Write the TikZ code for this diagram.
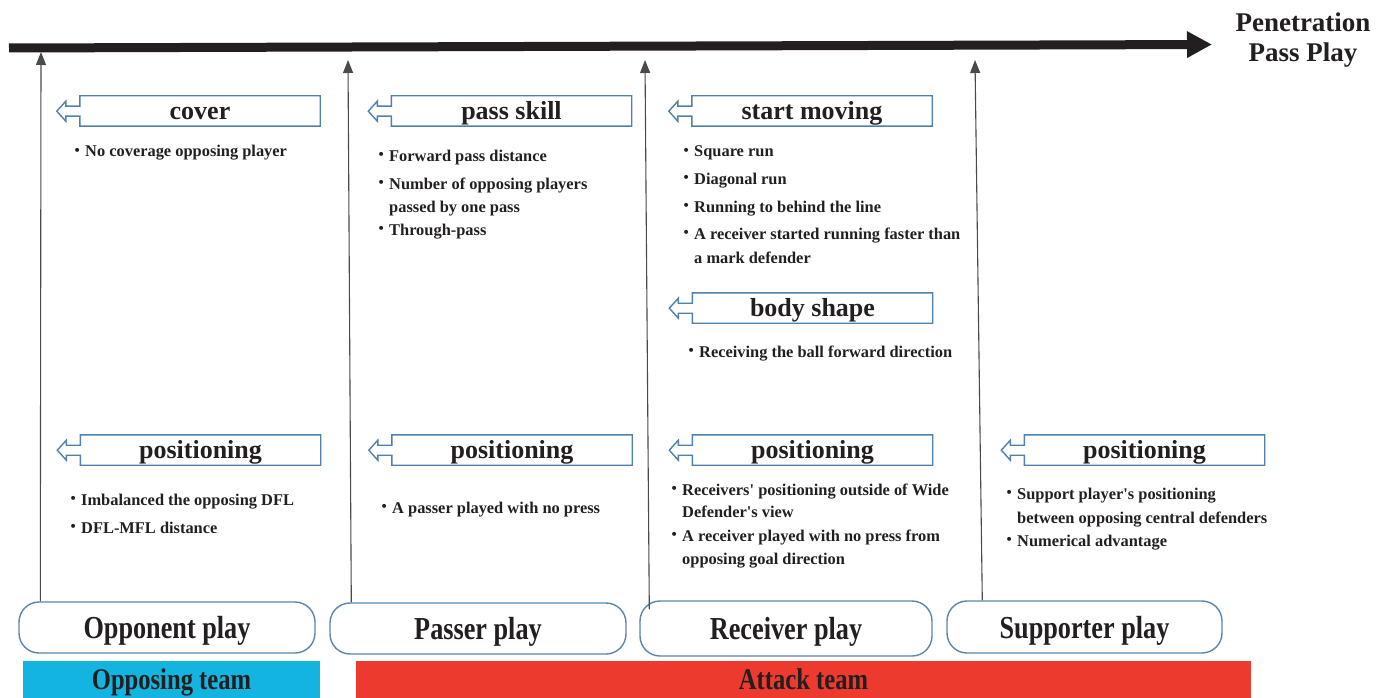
\documentclass[tikz,border=0pt]{standalone}
\usepackage{fontspec}
\usepackage{graphicx}
\setmainfont{Liberation Serif}
\usetikzlibrary{arrows.meta,calc}
\definecolor{ink}{HTML}{231F20}
\definecolor{hblue}{HTML}{4F80AE}
\definecolor{pblue}{HTML}{5A86AE}
\definecolor{teamcyan}{HTML}{14B4E0}
\definecolor{teamred}{HTML}{EC3A2E}
\definecolor{vgray}{HTML}{4A4A4A}
\tikzset{
  hd/.style={minimum width=240pt, minimum height=30pt, inner sep=0pt,
    text height=19.5pt, text depth=2.5pt,
    font=\fontsize{26}{26}\selectfont\bfseries, text=ink},
  hdline/.style={draw=hblue, line width=1.4pt, line join=miter},
  bt/.style={anchor=base west, inner sep=0pt,
    font=\fontsize{16.4}{16.4}\selectfont\bfseries, text=ink},
  playbox/.style={draw=pblue, line width=1.4pt, rounded corners=20pt, fill=white,
    inner sep=0pt, text height=22pt, text depth=0pt, text=ink,
    font=\fontsize{32}{32}\selectfont\bfseries},
  teambar/.style={inner sep=0pt, text height=20pt, text depth=0pt, text=ink,
    font=\fontsize{30}{30}\selectfont\bfseries},
  vup/.style={draw=vgray, line width=1.1pt, -{Triangle[width=10pt,length=13pt]}},
  ttl/.style={anchor=base, inner sep=0pt, text=ink,
    font=\fontsize{27}{27}\selectfont\bfseries},
}
\newcommand\headbox[4]{%
  \node[hd] (#1) at (#2,#3) {#4};
  \draw[hdline] (#1.south west) -- ++(0,-10) -- ++(-14,0) -- ++(0,5)
    -- ++(-9,-10) -- ++(9,-10) -- ++(0,5) -- ++(14,0)
    -- (#1.north west) -- (#1.north east) -- (#1.south east) -- cycle;}
\newcommand\bul{\makebox[16pt][c]{\raisebox{-1.2pt}{\scalebox{1.5}{\textperiodcentered}}}}
\newcommand\cnd[1]{\scalebox{0.82}[1]{#1}}
\begin{document}
\begin{tikzpicture}[x=1pt,y=-1pt]
\useasboundingbox (0,0) rectangle (1384,698);

% main arrow
\coordinate (ms) at (9,48);
\coordinate (me) at (1212,44.5);
\draw[ink, line width=9pt, -{Triangle[width=25pt,length=25pt]}] (ms) -- (me);
\node[ttl] (t1) at (1303,32) {Penetration};
\node[ttl] (t2) at (1303,62) {Pass Play};

% heading boxes
\headbox{hcover}{200}{111}{cover}
\headbox{hpass}{511.5}{111}{pass skill}
\headbox{hstart}{812}{111}{start moving}
\headbox{hbody}{812.5}{308}{body shape}
\headbox{hpos1}{200.5}{450}{positioning}
\headbox{hpos2}{512}{450}{positioning}
\headbox{hpos3}{812.5}{450}{positioning}
\headbox{hpos4}{1144.5}{450}{positioning}

% bullet texts
\node[bt] (c1) at (69,157) {\bul No coverage opposing player};

\node[bt] (p1) at (373,161) {\bul Forward pass distance};
\node[bt] (p2) at (373,189) {\bul Number of opposing players};
\node[bt] (p2b) at (389,212) {passed by one pass};
\node[bt] (p3) at (373,235) {\bul Through-pass};

\node[bt] (s1) at (678,157) {\bul Square run};
\node[bt] (s2) at (678,184) {\bul Diagonal run};
\node[bt] (s3) at (678,212) {\bul Running to behind the line};
\node[bt] (s4) at (678,239) {\bul A receiver started running faster than};
\node[bt] (s4b) at (694,263) {a mark defender};

\node[bt] (b1) at (683,357) {\bul Receiving the ball forward direction};

\node[bt] (q1) at (65,505) {\bul Imbalanced the opposing DFL};
\node[bt] (q2) at (65,533) {\bul DFL-MFL distance};

\node[bt] (r1) at (376,513) {\bul A passer played with no press};

\node[bt] (u1) at (666,495) {\bul Receivers\textquotesingle\ positioning outside of Wide};
\node[bt] (u1b) at (682,517) {Defender\textquotesingle s view};
\node[bt] (u2) at (666,541) {\bul A receiver played with no press from};
\node[bt] (u2b) at (682,564) {opposing goal direction};

\node[bt] (v1) at (1001,499) {\bul Support player\textquotesingle s positioning};
\node[bt] (v1b) at (1017,523) {between opposing central defenders};
\node[bt] (v2) at (1001,546) {\bul Numerical advantage};

% play boxes
\node[playbox, minimum width=296pt, minimum height=51pt] (opp) at (167,627.5) {\cnd{Opponent play}};
\node[playbox, minimum width=296pt, minimum height=51pt] (pas) at (478,628.5) {\cnd{Passer play}};
\node[playbox, minimum width=292pt, minimum height=55pt] (rec) at (786,628.5) {\cnd{Receiver play}};
\node[playbox, minimum width=275pt, minimum height=52pt] (sup) at (1084.5,627) {\cnd{Supporter play}};

% team bars
\node[teambar, fill=teamcyan, minimum width=297pt, minimum height=37pt] (opt) at (171.5,679.5) {\cnd{Opposing team}};
\node[teambar, fill=teamred, minimum width=895pt, minimum height=37pt] (att) at (803.5,679.5) {\cnd{Attack team}};

% vertical arrows
\coordinate (a1) at (41,52);
\coordinate (a2) at (348,60);
\coordinate (a3) at (645,60);
\coordinate (a4) at (975,60);
\draw[vup] ($(opp.north west)+(22,0)$) -- (a1);
\draw[vup] ($(pas.north west)+(22,0)$) -- (a2);
\draw[vup] ($(rec.north west)+(10,9)$) -- (a3);
\draw[vup] ($(sup.north west)+(36,0)$) -- (a4);
\end{tikzpicture}
\end{document}
